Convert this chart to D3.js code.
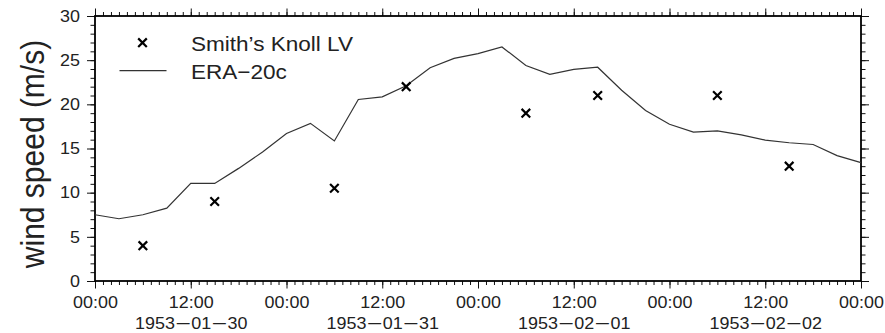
<!DOCTYPE html>
<html>
<head>
<meta charset="utf-8">
<script src="https://cdn.jsdelivr.net/npm/d3@7"></script>
<style>
  body { margin: 0; background: #fff; }
  svg { display: block; font-family: "Liberation Sans", Arial, Helvetica, sans-serif; }
</style>
</head>
<body>
<svg id="chart" width="885" height="333"></svg>
<script>
// ERA-20c, 3-hourly, hours since 1953-01-30 00:00 UTC
const eraHours = [0, 3, 6, 9, 12, 15, 18, 21, 24, 27, 30, 33, 36, 39, 42, 45, 48,
  51, 54, 57, 60, 63, 66, 69, 72, 75, 78, 81, 84, 87, 90, 93, 96];
const eraSpeed = [7.5, 7.05, 7.5, 8.25, 11.05, 11.05, 12.75, 14.6, 16.7, 17.85, 15.85, 20.55, 20.85, 22.1, 24.15, 25.2, 25.75,
  26.5, 24.4, 23.4, 23.95, 24.2, 21.6, 19.3, 17.75, 16.85, 17.0, 16.55, 15.95, 15.65, 15.45, 14.2, 13.4];

// Smith's Knoll light vessel observations
const obsTimes = ['1953-01-30T06:00Z', '1953-01-30T15:00Z', '1953-01-31T06:00Z', '1953-01-31T15:00Z',
  '1953-02-01T06:00Z', '1953-02-01T15:00Z', '1953-02-02T06:00Z', '1953-02-02T15:00Z'];
const obsSpeed = [4, 9, 10.5, 22, 19, 21, 21, 13];

const yTicks = [0, 5, 10, 15, 20, 25, 30];
const seriesNames = ["Smith\u2019s Knoll LV", "ERA\u221220c"];

const t0 = new Date(Date.UTC(1953, 0, 30));
const t1 = new Date(Date.UTC(1953, 1, 3));

const margin = {left: 95, right: 24, top: 16, bottom: 52};
const width = 885, height = 333;
const sx = 1.1; // text is drawn slightly wide in the original

const svg = d3.select('#chart');

const x = d3.scaleUtc()
  .domain([t0, t1])
  .range([margin.left, width - margin.right]);

const y = d3.scaleLinear()
  .domain([0, 30])
  .range([height - margin.bottom, margin.top]);

const textColor = '#222';
const fmtHour = d3.utcFormat('%H:%M');
const fmtDay = d3.utcFormat('%Y-%m-%d');

// minor ticks
svg.append('g')
  .attr('transform', `translate(0,${y(0)})`)
  .call(d3.axisBottom(x).ticks(d3.utcHour.every(1)).tickSize(4).tickFormat(''));
svg.append('g')
  .attr('transform', `translate(0,${y(30)})`)
  .call(d3.axisTop(x).ticks(d3.utcHour.every(1)).tickSize(4).tickFormat(''));
svg.append('g')
  .attr('transform', `translate(${x(t0)},0)`)
  .call(d3.axisLeft(y).ticks(30).tickSize(4.5).tickFormat(''));
svg.append('g')
  .attr('transform', `translate(${x(t1)},0)`)
  .call(d3.axisRight(y).ticks(30).tickSize(4.5).tickFormat(''));

// major ticks + labels
const xAxis = svg.append('g')
  .attr('transform', `translate(0,${y(0)})`)
  .call(d3.axisBottom(x).ticks(d3.utcHour.every(12)).tickSize(7.5).tickPadding(8).tickFormat(fmtHour));
svg.append('g')
  .attr('transform', `translate(0,${y(30)})`)
  .call(d3.axisTop(x).ticks(d3.utcHour.every(12)).tickSize(7.5).tickFormat(''));
const yAxis = svg.append('g')
  .attr('transform', `translate(${x(t0)},0)`)
  .call(d3.axisLeft(y).tickValues(yTicks).tickSize(8).tickPadding(5.6).tickFormat(d3.format('d')));
svg.append('g')
  .attr('transform', `translate(${x(t1)},0)`)
  .call(d3.axisRight(y).tickValues(yTicks).tickSize(8).tickFormat(''));

svg.selectAll('.domain').remove();
svg.selectAll('.tick line').attr('stroke', '#111').attr('stroke-width', 1);

xAxis.selectAll('.tick text')
  .attr('font-size', 16.3)
  .attr('fill', textColor)
  .attr('font-family', null)
  .attr('transform', `scale(${sx},1)`);
yAxis.selectAll('.tick text')
  .attr('font-size', 16.3)
  .attr('fill', textColor)
  .attr('font-family', null)
  .attr('transform', `scale(${sx},1)`);

// date line under the 12:00 ticks (the original uses long dashes)
const dateText = xAxis.selectAll('.tick')
  .filter(d => d.getUTCHours() === 12)
  .append('text')
  .attr('y', 48.3)
  .attr('fill', textColor)
  .attr('font-size', 16.3)
  .attr('text-anchor', 'middle')
  .attr('transform', `scale(${sx},1)`);
dateText.each(function(d) {
  const parts = fmtDay(d).split('-');
  const t = d3.select(this);
  parts.forEach((p, i) => {
    if (i > 0) t.append('tspan').attr('dx', 1.6).attr('font-size', 21).text('\u2013');
    t.append('tspan').attr('dx', i > 0 ? 1.6 : null).text(p);
  });
});

// frame
svg.append('rect')
  .attr('x', x(t0))
  .attr('y', y(30))
  .attr('width', x(t1) - x(t0))
  .attr('height', y(0) - y(30))
  .attr('fill', 'none')
  .attr('stroke', '#000')
  .attr('stroke-width', 1.8);

// ERA-20c line
const eraData = eraHours.map((h, i) => ({t: d3.utcHour.offset(t0, h), v: eraSpeed[i]}));
const line = d3.line()
  .x(d => x(d.t))
  .y(d => y(d.v));
svg.append('path')
  .datum(eraData)
  .attr('d', line)
  .attr('fill', 'none')
  .attr('stroke', '#333')
  .attr('stroke-width', 1.2);

// crosses
const cross = (cx, cy, r) => `M${cx - r},${cy - r}L${cx + r},${cy + r}M${cx - r},${cy + r}L${cx + r},${cy - r}`;
const obsData = obsTimes.map((s, i) => ({t: new Date(s), v: obsSpeed[i]}));
svg.append('g')
  .selectAll('path')
  .data(obsData)
  .join('path')
  .attr('d', d => cross(x(d.t), y(d.v), 4.3))
  .attr('stroke', '#000')
  .attr('stroke-width', 2.2)
  .attr('fill', 'none');

// legend
const legend = svg.append('g');
legend.append('path')
  .attr('d', cross(142.5, 42.7, 4.3))
  .attr('stroke', '#000')
  .attr('stroke-width', 2.2);
legend.append('line')
  .attr('x1', 119.5).attr('x2', 166.5)
  .attr('y1', 70.7).attr('y2', 70.7)
  .attr('stroke', '#333')
  .attr('stroke-width', 1.2);
legend.selectAll('text')
  .data(seriesNames)
  .join('text')
  .attr('transform', (d, i) => `translate(191,${[51.3, 78.6][i]}) scale(${sx},1)`)
  .attr('font-size', 20.5)
  .attr('fill', textColor)
  .text(d => d);

// y label
svg.append('text')
  .attr('transform', `translate(44,154) scale(${sx},1) rotate(-90)`)
  .attr('text-anchor', 'middle')
  .attr('font-size', 30)
  .attr('fill', textColor)
  .text('wind speed (m/s)');
</script>
</body>
</html>
